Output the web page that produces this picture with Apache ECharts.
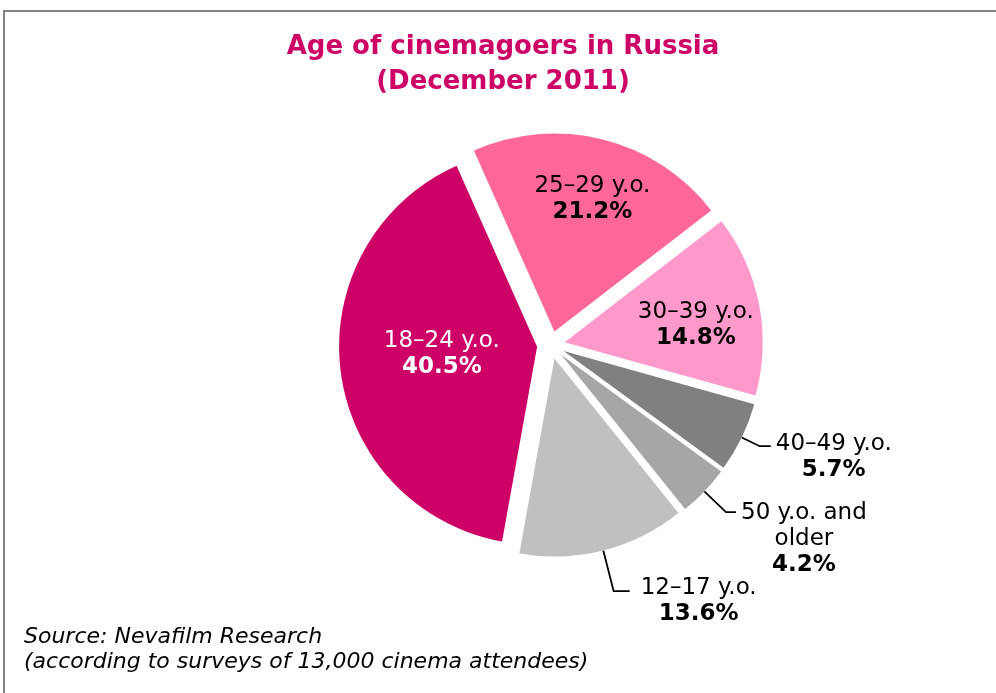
<!DOCTYPE html>
<html>
<head>
<meta charset="utf-8">
<script src="https://cdn.jsdelivr.net/npm/echarts@6/dist/echarts.min.js"></script>
<style>
  html, body { margin: 0; padding: 0; background: #fff; }
  #main { width: 996px; height: 693px; }
</style>
</head>
<body>
<div id="main"></div>
<script>
// data, clockwise from the top-left cut
var categories = ['25–29 y.o.', '30–39 y.o.', '40–49 y.o.', '50 y.o. and\nolder', '12–17 y.o.', '18–24 y.o.'];
var shares = [21.2, 14.8, 5.7, 4.2, 13.6, 40.5];
var colors = ['#FF6699', '#FF99CC', '#808080', '#A6A6A6', '#C0C0C0', '#CC0066'];

var FONT = '"DejaVu Sans", Verdana, sans-serif';

// label placement per slice (Excel-like)
var labelCfg = [
    { pos: 'inside', pad: [0, 0, 66, 26], color: '#000' },
    { pos: 'inside', pad: [4, 0, 0, 62], color: '#000' },
    { pos: 'outside', pad: [22, 0, 0, 0], color: '#000', len: 20, len2: 11 },
    { pos: 'outside', pad: [53, 0, 0, 0], color: '#000', len: 30, len2: 10 },
    { pos: 'outside', pad: [20, 0, 0, 6], color: '#000', len: 42, len2: 16 },
    { pos: 'inside', pad: [0, 0, 10, 12], color: '#fff' }
];

function fmt(p) {
    var lines = p.name.split('\n').map(function (s) { return '{n|' + s + '}'; });
    return lines.join('\n') + '\n{p|' + p.value.toFixed(1) + '%}';
}

var data = categories.map(function (name, i) {
    var c = labelCfg[i];
    var item = {
        name: name,
        value: shares[i],
        selected: true,
        itemStyle: { color: colors[i] },
        label: {
            position: c.pos,
            padding: c.pad,
            rich: {
                n: { fontFamily: FONT, fontSize: 23, lineHeight: 26, align: 'center', color: c.color },
                p: { fontFamily: FONT, fontSize: 23, lineHeight: 26, align: 'center', fontWeight: 'bold', color: c.color }
            }
        }
    };
    if (c.pos === 'outside') {
        item.labelLine = { show: true, length: c.len, length2: c.len2 };
    } else {
        item.labelLine = { show: false };
    }
    return item;
});

var myChart = echarts.init(document.getElementById('main'));

var option = {
    backgroundColor: '#fff',
    animation: false,
    title: [
        {
            text: 'Age of cinemagoers in Russia\n(December 2011)',
            left: 498,
            top: 25,
            textAlign: 'center',
            textStyle: {
                fontFamily: FONT, fontSize: 26, fontWeight: 'bold',
                color: '#CC0066', lineHeight: 35
            }
        },
        {
            text: 'Source: Nevafilm Research\n(according to surveys of 13,000 cinema attendees)',
            left: 19,
            top: 620,
            textStyle: {
                fontFamily: FONT, fontSize: 22, fontWeight: 'normal',
                fontStyle: 'italic', color: '#000', lineHeight: 25
            }
        }
    ],
    graphic: [
        {
            type: 'rect',
            shape: { x: 4, y: 11, width: 1100, height: 800 },
            style: { fill: 'none', stroke: '#848484', lineWidth: 2 },
            silent: true
        }
    ],
    series: [
        {
            type: 'pie',
            center: [551, 345],
            radius: 198,
            startAngle: 114,
            clockwise: true,
            selectedMode: 'multiple',
            selectedOffset: 14,
            avoidLabelOverlap: false,
            labelLayout: { hideOverlap: false },
            emphasis: { scale: false },
            label: {
                formatter: fmt,
                distanceToLabelLine: 5
            },
            labelLine: {
                lineStyle: { color: '#000', width: 1.8 }
            },
            data: data
        }
    ]
};

myChart.setOption(option);
</script>
</body>
</html>
